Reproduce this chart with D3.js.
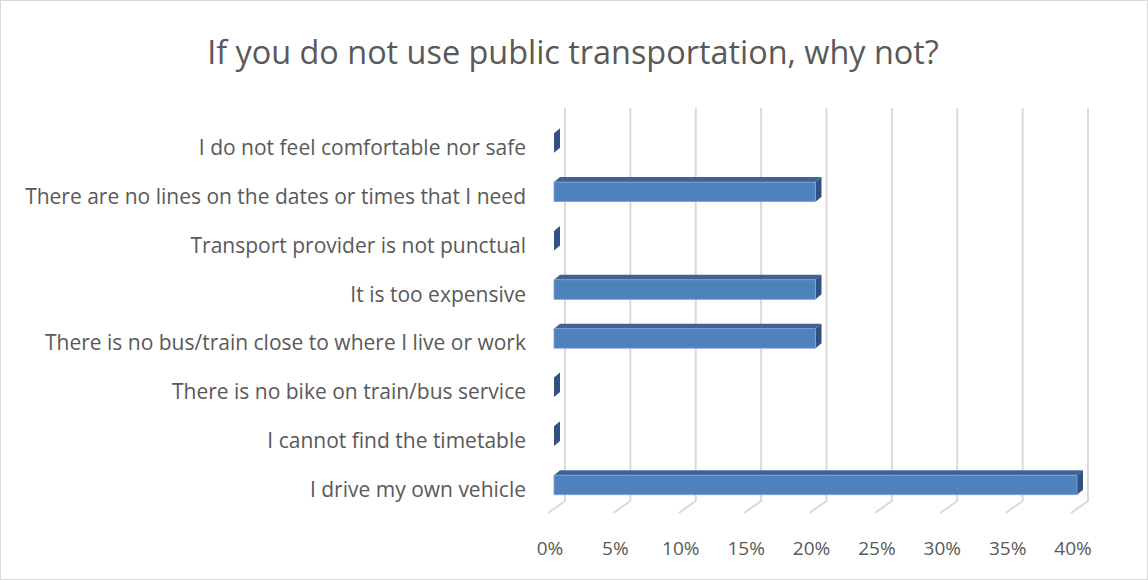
<!DOCTYPE html>
<html>
<head>
<meta charset="utf-8">
<script src="https://cdn.jsdelivr.net/npm/d3@7/dist/d3.min.js"></script>
<style>
  html, body { margin: 0; padding: 0; background: #fff; }
  svg { display: block; }
  text { font-family: "Open Sans", Lato, sans-serif; fill: #595959; }
</style>
</head>
<body>
<svg id="chart" width="1148" height="580"></svg>
<script>
// Survey answers, top to bottom, and the share of respondents for each
const categories = [
  "I do not feel comfortable nor safe",
  "There are no lines on the dates or times that I need",
  "Transport provider is not punctual",
  "It is too expensive",
  "There is no bus/train close to where I live or work",
  "There is no bike on train/bus service ",
  "I cannot find the timetable",
  "I drive my own vehicle"
];
const shares = [0, 0.20, 0, 0.20, 0.20, 0, 0, 0.40];
const tickValues = [0, 0.05, 0.10, 0.15, 0.20, 0.25, 0.30, 0.35, 0.40];
const title = "If you do not use public transportation, why not?";

const svg = d3.select("#chart");
const W = 1148, H = 580;

// chart frame
svg.append("rect")
  .attr("x", 0.5).attr("y", 0.5).attr("width", W - 1).attr("height", H - 1)
  .attr("fill", "#fff").attr("stroke", "#d9d9d9").attr("stroke-width", 1);

// title
svg.append("text")
  .attr("x", 573).attr("y", 51)
  .attr("text-anchor", "middle").attr("dominant-baseline", "central")
  .style("font-size", "32.4px")
  .text(title);

// value scale on the back wall; the floor runs forward by (floorDx, floorDy)
const xBack = d3.scaleLinear().domain([0, 0.4]).range([565, 1088]);
const floorDx = -17, floorDy = 12;
const wallTop = 108, wallBottom = 501;
// bars sit part way into the depth
const barShift = -11;
const xBar = v => xBack(v) + barShift;
const depthDx = 6, depthDy = -5;

const y = d3.scaleBand().domain(categories).range([118.6, 509.4])
  .paddingInner(0.6).paddingOuter(0.3);

// gridlines: vertical on the wall, then a short diagonal across the floor
const grid = svg.append("g").attr("fill", "none").attr("stroke", "#d9d9d9").attr("stroke-width", 2);
grid.selectAll("path").data(tickValues).join("path")
  .attr("d", t => {
    const x = xBack(t);
    return `M${x},${wallTop}L${x},${wallBottom}L${x + floorDx},${wallBottom + floorDy}`;
  });

// value axis labels
svg.append("g").selectAll("text").data(tickValues).join("text")
  .attr("x", t => xBack(t) + floorDx + 2)
  .attr("y", 548)
  .attr("text-anchor", "middle").attr("dominant-baseline", "central")
  .style("font-size", "19px")
  .text(d3.format(".0%"));

// category labels
svg.append("g").selectAll("text").data(categories).join("text")
  .attr("x", 526)
  .attr("y", c => y(c) + y.bandwidth() / 2 + 4)
  .attr("text-anchor", "end").attr("dominant-baseline", "central")
  .style("font-size", "21px")
  .text(c => c);

// 3D bars: front face, top face and right side face
const bars = svg.append("g").selectAll("g").data(categories.map((c, i) => ({ c, v: shares[i] }))).join("g");

bars.append("path")
  .attr("fill", "#3f6494")
  .attr("d", d => {
    const x0 = xBar(0), x1 = xBar(d.v), y0 = y(d.c);
    return `M${x0},${y0}L${x1},${y0}L${x1 + depthDx},${y0 + depthDy}L${x0 + depthDx},${y0 + depthDy}Z`;
  });

bars.append("path")
  .attr("fill", "#2f5283")
  .attr("d", d => {
    const x1 = xBar(d.v), y0 = y(d.c), y1 = y0 + y.bandwidth();
    return `M${x1},${y0}L${x1},${y1}L${x1 + depthDx},${y1 + depthDy}L${x1 + depthDx},${y0 + depthDy}Z`;
  });

bars.filter(d => d.v > 0).append("rect")
  .attr("x", xBar(0))
  .attr("y", d => y(d.c))
  .attr("width", d => xBar(d.v) - xBar(0))
  .attr("height", y.bandwidth())
  .attr("fill", "#4f81bd")
  .attr("stroke", "#7fa4d3").attr("stroke-width", 0.8);
</script>
</body>
</html>
